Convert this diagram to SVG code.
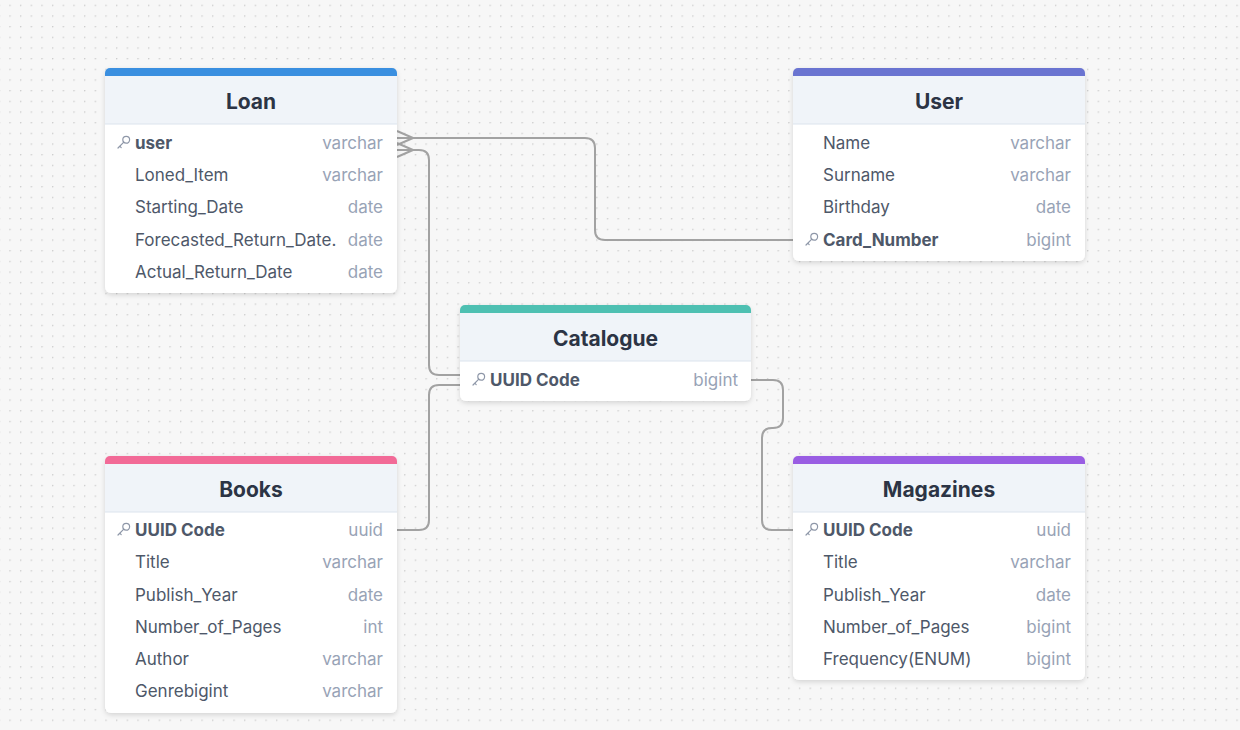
<svg xmlns="http://www.w3.org/2000/svg" width="1240" height="730" viewBox="0 0 1240 730">
<defs>
<pattern id="dots" x="9.3" y="4.7" width="10.67" height="10.67" patternUnits="userSpaceOnUse">
<circle cx="0.7" cy="0.7" r="0.75" fill="#c9c9c9"/>
</pattern>
<filter id="sh" x="-10%" y="-10%" width="120%" height="130%">
<feDropShadow dx="0" dy="2" stdDeviation="2.5" flood-color="#000" flood-opacity="0.14"/>
</filter>
<g id="key">
<circle cx="3.2" cy="-3.2" r="3.4" fill="none" stroke="#8e97a8" stroke-width="1.2"/>
<path d="M0.8,-0.8 L-5,5 M-3.2,3.2 L-1.8,4.6" fill="none" stroke="#8e97a8" stroke-width="1.2" stroke-linecap="round"/>
</g>
</defs>
<style>
.card{fill:#ffffff;filter:url(#sh)}
.hdr{fill:#f0f4f9}
.sep{stroke:#dce3ee;stroke-width:1.2}
.title{font-family:Inter,"Liberation Sans",sans-serif;font-size:21px;font-weight:700;fill:#2c3445;text-anchor:middle}
.nm{font-family:Inter,"Liberation Sans",sans-serif;font-size:17px;fill:#4e5869}
.pk{font-weight:700;fill:#4e5869}
.ty{font-family:Inter,"Liberation Sans",sans-serif;font-size:17px;fill:#98a3b6;text-anchor:end}
.conn{fill:none;stroke:#a2a2a2;stroke-width:2}
</style>
<rect width="1240" height="730" fill="#f7f7f7"/>
<rect width="1240" height="730" fill="url(#dots)"/>

<g id="connectors">
<path class="conn" d="M397,138 H585 Q595,138 595,148 V230 Q595,240 605,240 H793"/>
<path class="conn" d="M397,131 L413,138 M397,145 L413,138"/>
<path class="conn" d="M397,150 H419 Q429,150 429,160 V365 Q429,375 439,375 H460"/>
<path class="conn" d="M397,143 L413,150 M397,157 L413,150"/>
<path class="conn" d="M397,530 H419 Q429,530 429,520 V395 Q429,385 439,385 H460"/>
<path class="conn" d="M751,380 H773 Q783,380 783,390 V418 Q783,428 773,428 H772 Q762,428 762,438 V520 Q762,530 772,530 H793"/>
</g>

<g id="loan" transform="translate(105,68)">
<rect class="card" width="292" height="225" rx="6"/>
<rect width="292" height="16" rx="5" fill="#3a8fe0"/>
<rect y="8" width="292" height="48" class="hdr"/>
<line x1="0" y1="56" x2="292" y2="56" class="sep"/>
<text class="title" x="146" y="40.5">Loan</text>
<use href="#key" x="18" y="75"/>
<text class="nm pk" x="30" y="81">user</text><text class="ty" x="278" y="81">varchar</text>
<text class="nm" x="30" y="113">Loned_Item</text><text class="ty" x="278" y="113">varchar</text>
<text class="nm" x="30" y="145">Starting_Date</text><text class="ty" x="278" y="145">date</text>
<text class="nm" x="30" y="178">Forecasted_Return_Date.</text><text class="ty" x="278" y="178">date</text>
<text class="nm" x="30" y="210">Actual_Return_Date</text><text class="ty" x="278" y="210">date</text>
</g>

<g id="user" transform="translate(793,68)">
<rect class="card" width="292" height="193" rx="6"/>
<rect width="292" height="16" rx="5" fill="#6a74d1"/>
<rect y="8" width="292" height="48" class="hdr"/>
<line x1="0" y1="56" x2="292" y2="56" class="sep"/>
<text class="title" x="146" y="40.5">User</text>
<text class="nm" x="30" y="81">Name</text><text class="ty" x="278" y="81">varchar</text>
<text class="nm" x="30" y="113">Surname</text><text class="ty" x="278" y="113">varchar</text>
<text class="nm" x="30" y="145">Birthday</text><text class="ty" x="278" y="145">date</text>
<use href="#key" x="18" y="172"/>
<text class="nm pk" x="30" y="178">Card_Number</text><text class="ty" x="278" y="178">bigint</text>
</g>

<g id="catalogue" transform="translate(460,305)">
<rect class="card" width="291" height="96" rx="6"/>
<rect width="291" height="16" rx="5" fill="#4ec0b2"/>
<rect y="8" width="291" height="48" class="hdr"/>
<line x1="0" y1="56" x2="291" y2="56" class="sep"/>
<text class="title" x="145.5" y="40.5">Catalogue</text>
<use href="#key" x="18" y="75"/>
<text class="nm pk" x="30" y="81">UUID Code</text><text class="ty" x="278" y="81">bigint</text>
</g>

<g id="books" transform="translate(105,456)">
<rect class="card" width="292" height="257" rx="6"/>
<rect width="292" height="16" rx="5" fill="#f26a97"/>
<rect y="8" width="292" height="48" class="hdr"/>
<line x1="0" y1="56" x2="292" y2="56" class="sep"/>
<text class="title" x="146" y="40.5">Books</text>
<use href="#key" x="18" y="74"/>
<text class="nm pk" x="30" y="80">UUID Code</text><text class="ty" x="278" y="80">uuid</text>
<text class="nm" x="30" y="112">Title</text><text class="ty" x="278" y="112">varchar</text>
<text class="nm" x="30" y="144.5">Publish_Year</text><text class="ty" x="278" y="144.5">date</text>
<text class="nm" x="30" y="177">Number_of_Pages</text><text class="ty" x="278" y="177">int</text>
<text class="nm" x="30" y="209">Author</text><text class="ty" x="278" y="209">varchar</text>
<text class="nm" x="30" y="241">Genrebigint</text><text class="ty" x="278" y="241">varchar</text>
</g>

<g id="magazines" transform="translate(793,456)">
<rect class="card" width="292" height="224" rx="6"/>
<rect width="292" height="16" rx="5" fill="#995de3"/>
<rect y="8" width="292" height="48" class="hdr"/>
<line x1="0" y1="56" x2="292" y2="56" class="sep"/>
<text class="title" x="146" y="40.5">Magazines</text>
<use href="#key" x="18" y="74"/>
<text class="nm pk" x="30" y="80">UUID Code</text><text class="ty" x="278" y="80">uuid</text>
<text class="nm" x="30" y="112">Title</text><text class="ty" x="278" y="112">varchar</text>
<text class="nm" x="30" y="144.5">Publish_Year</text><text class="ty" x="278" y="144.5">date</text>
<text class="nm" x="30" y="177">Number_of_Pages</text><text class="ty" x="278" y="177">bigint</text>
<text class="nm" x="30" y="209">Frequency(ENUM)</text><text class="ty" x="278" y="209">bigint</text>
</g>
</svg>
